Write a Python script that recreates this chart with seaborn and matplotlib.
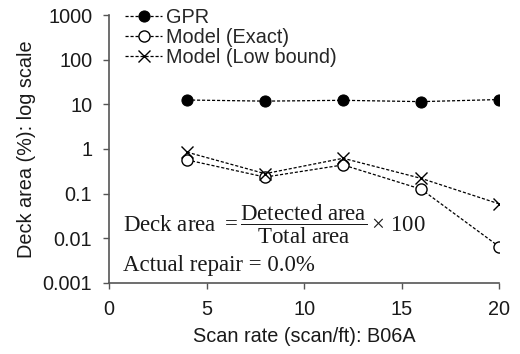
import numpy as np
import pandas as pd
import matplotlib
matplotlib.use("Agg")
import matplotlib.pyplot as plt
import seaborn as sns

scan_rate = [4, 8, 12, 16, 20]
gpr = [12.5, 11.8, 12.3, 11.5, 12.8]
model_exact = [0.57, 0.235, 0.44, 0.126, 0.0065]
model_low = [0.85, 0.28, 0.62, 0.22, 0.059]
series_names = ["GPR", "Model (Exact)", "Model (Low bound)"]

sns.set_style("ticks")
plt.rcParams["font.family"] = ["Liberation Sans", "DejaVu Sans"]
plt.rcParams["mathtext.fontset"] = "custom"
plt.rcParams["mathtext.rm"] = "Liberation Serif"
plt.rcParams["mathtext.it"] = "Liberation Serif:italic"

df = pd.DataFrame({
    "x": scan_rate * 3,
    "y": gpr + model_exact + model_low,
    "series": [series_names[0]] * 5 + [series_names[1]] * 5 + [series_names[2]] * 5,
})

fig = plt.figure(figsize=(5.2, 3.54), dpi=100)
ax = fig.add_axes([0.2096, 0.2006, 0.7504, 0.757])

styles = {
    "GPR": dict(marker="o", mfc="black", mec="black", ms=8),
    "Model (Exact)": dict(marker="o", mfc="white", mec="black", ms=8, mew=1.0),
    "Model (Low bound)": dict(marker="x", mfc="none", mec="black", ms=8, mew=1.0),
}
for name in series_names:
    sub = df[df["series"] == name]
    sns.lineplot(data=sub, x="x", y="y", ax=ax, color="black", lw=0.9,
                 linestyle=(0, (2.5, 1.5)), label=name, **styles[name])

ax.set_yscale("log")
ax.set_xlim(0, 20)
ax.set_ylim(0.001, 1000)
ax.set_xticks([0, 5, 10, 15, 20])
ax.set_yticks([0.001, 0.01, 0.1, 1, 10, 100, 1000])
ax.set_yticklabels(["0.001", "0.01", "0.1", "1", "10", "100", "1000"])
ax.minorticks_off()
ax.tick_params(axis="both", labelsize=14.3, length=4.5, width=1, pad=7.5,
               color="#555555", labelcolor="#1a1a1a")
for s in ["top", "right"]:
    ax.spines[s].set_visible(False)
for s in ["left", "bottom"]:
    ax.spines[s].set_color("#555555")
    ax.spines[s].set_linewidth(1.2)
ax.set_xlabel("Scan rate (scan/ft): B06A", fontsize=14.3, color="#1a1a1a", labelpad=6)
ax.set_ylabel("Deck area (%): log scale", fontsize=14.3, color="#1a1a1a", labelpad=5)

leg = ax.legend(loc="upper left", frameon=False, fontsize=14.3, handlelength=1.9,
                handletextpad=0.2, borderaxespad=0.0, labelspacing=0.05,
                bbox_to_anchor=(0.02, 1.055))

ax.text(0.72, 0.021, r"Deck area $=\dfrac{\mathrm{Detected\ area}}{\mathrm{Total\ area}}\times\,100$",
        fontsize=16.5, family="Liberation Serif", va="center", color="#1a1a1a")
ax.text(0.72, 0.0025, "Actual repair = 0.0%", fontsize=16.5, family="Liberation Serif",
        va="center", color="#1a1a1a")

fig.savefig("out.png", dpi=100)
